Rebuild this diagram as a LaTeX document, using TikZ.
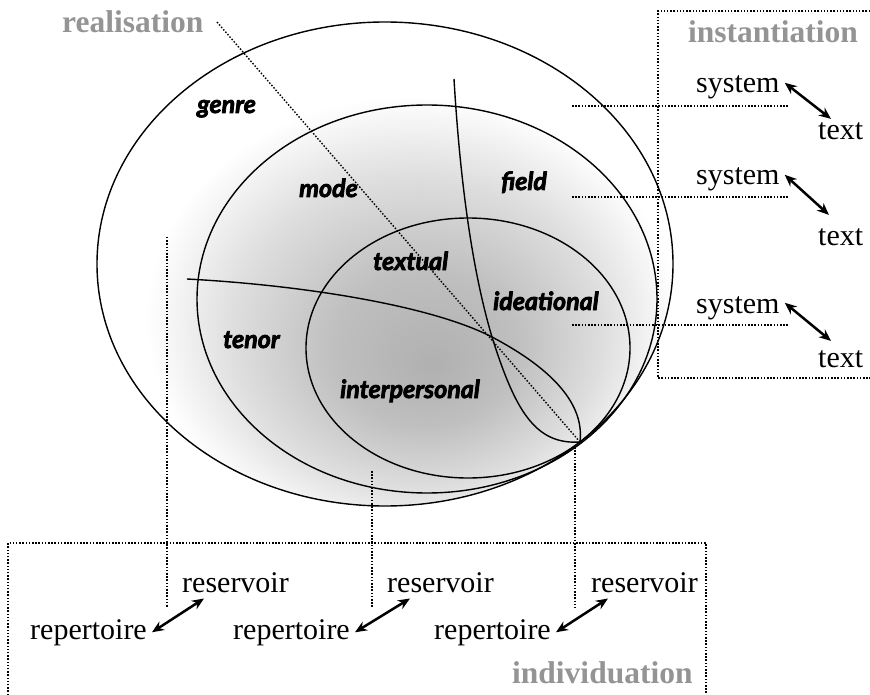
\documentclass[tikz,border=0pt]{standalone}
\usepackage{fontspec}
\setmainfont{Liberation Serif}
\newfontfamily\scrfont{Lato}[BoldItalicFeatures={FakeBold=3}]
\usetikzlibrary{arrows.meta}
\pgfdeclareradialshading{bgshade}{\pgfpoint{4.2bp}{-10.4bp}}{color(0bp)=(black!31); color(8bp)=(black!25); color(16bp)=(black!13); color(23bp)=(white); color(50bp)=(white)}
\tikzset{
  ring/.style={draw=black, line width=1.4pt},
  divline/.style={draw=black, line width=1.4pt},
  leader/.style={draw=black, line width=1.4pt, dash pattern=on 1.5pt off 1.7pt},
  lbl/.style={font=\scrfont\bfseries\itshape\fontsize{25}{27}\selectfont, inner sep=0pt, anchor=base west},
  word/.style={font=\fontsize{30}{32}\selectfont, inner sep=0pt, anchor=base west},
  head/.style={font=\bfseries\fontsize{31.5}{33}\selectfont, text=black!42, inner sep=0pt, anchor=base west},
  dbl/.style={{Stealth[length=12pt,width=10pt]}-{Stealth[length=12pt,width=10pt]}, line width=2.5pt}
}
\begin{document}
\begin{tikzpicture}[x=1pt,y=-1pt]
\useasboundingbox (0,0) rectangle (870,695);
% shaded rings
\shade[shading=bgshade] (385,264) ellipse [x radius=288, y radius=242];
\draw[ring] (385,264) ellipse [x radius=288, y radius=242];
\draw[ring] (427,299) ellipse [x radius=230, y radius=194];
\draw[ring] (468,348) ellipse [x radius=162, y radius=130];
% key points
\coordinate (tp) at (580,442);
\coordinate (cross) at (492,337);
\coordinate (htop) at (187,279);
\coordinate (vtop) at (454,79);
\coordinate (dtop) at (217,22);
% dividing curves
\draw[divline] (htop) .. controls (300,285) and (430,305) .. (cross) .. controls (545,365) and (585,400) .. (tp);
\draw[divline] (vtop) .. controls (460,180) and (472,270) .. (cross) .. controls (515,410) and (535,445) .. (tp);
\draw[leader] (dtop) -- (tp);
% instantiation box
\draw[leader] (870,11) -- (658,11) -- (658,378) -- (870,378);
\coordinate (r1a) at (572,106); \coordinate (r1b) at (788,106);
\coordinate (r2a) at (572,197); \coordinate (r2b) at (788,197);
\coordinate (r3a) at (572,325); \coordinate (r3b) at (788,325);
\draw[leader] (r1a) -- (r1b);
\draw[leader] (r2a) -- (r2b);
\draw[leader] (r3a) -- (r3b);
% individuation box
\draw[leader] (8,695) -- (8,543) -- (706,543) -- (706,695);
\coordinate (b1a) at (167,237); \coordinate (b1b) at (167,608);
\coordinate (b2a) at (372,471); \coordinate (b2b) at (372,608);
\coordinate (b3a) at (575,447); \coordinate (b3b) at (575,608);
\draw[leader] (b1a) -- (b1b);
\draw[leader] (b2a) -- (b2b);
\draw[leader] (b3a) -- (b3b);
% region labels
\node[lbl] (genre) at (197,113) {genre};
\node[lbl] (mode) at (299,197) {mode};
\node[lbl] (field) at (501,190) {field};
\node[lbl] (textual) at (373,270) {textual};
\node[lbl] (ideational) at (493,310) {ideational};
\node[lbl] (tenor) at (223,348) {tenor};
\node[lbl] (interpersonal) at (340,398) {interpersonal};
% headings
\node[head] (realisation) at (62,33) {realisation};
\node[head] (instantiation) at (688,43) {instantiation};
\node[head] (individuation) at (512,683) {individuation};
% system / text
\node[word] (sys1) at (696,93) {system};
\node[word] (txt1) at (818,140) {text};
\node[word] (sys2) at (696,185) {system};
\node[word] (txt2) at (818,245) {text};
\node[word] (sys3) at (696,313) {system};
\node[word] (txt3) at (818,367) {text};
\draw[dbl] ([shift={(5,-5)}]sys1.east) -- ([shift={(13,-4)}]txt1.north west);
\draw[dbl] ([shift={(5,-5)}]sys2.east) -- ([shift={(11,-13)}]txt2.north west);
\draw[dbl] ([shift={(5,-5)}]sys3.east) -- ([shift={(13,-9)}]txt3.north west);
% reservoir / repertoire
\node[word] (res1) at (182,592) {reservoir};
\node[word] (res2) at (387,592) {reservoir};
\node[word] (res3) at (591,592) {reservoir};
\node[word] (rep1) at (30,639) {repertoire};
\node[word] (rep2) at (233,639) {repertoire};
\node[word] (rep3) at (434,639) {repertoire};
\draw[dbl] ([xshift=5pt]rep1.east) -- ([shift={(22,6)}]res1.south west);
\draw[dbl] ([xshift=5pt]rep2.east) -- ([shift={(23,6)}]res2.south west);
\draw[dbl] ([xshift=5pt]rep3.east) -- ([shift={(17,6)}]res3.south west);
\end{tikzpicture}
\end{document}
